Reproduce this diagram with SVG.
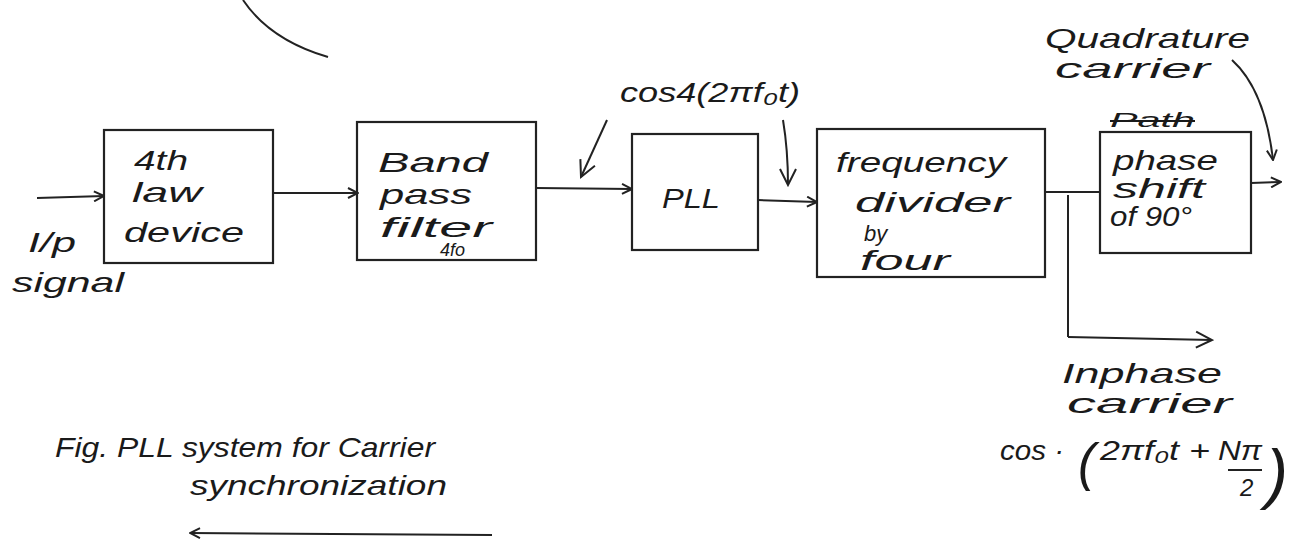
<svg xmlns="http://www.w3.org/2000/svg" width="1291" height="546" viewBox="0 0 1291 546">
  <style>
    .box { fill: none; stroke: #222; stroke-width: 2.2; }
    .wire { fill: none; stroke: #222; stroke-width: 2; }
    .lbl { font-family: "Liberation Sans", "DejaVu Sans", sans-serif; font-size: 28px; font-style: italic; fill: #1a1a1a; }
    .sm { font-size: 18px; }
    .strike { text-decoration: line-through; }
  </style>
  <defs>
    <marker id="arr" viewBox="0 0 12 12" refX="11" refY="6" markerWidth="12" markerHeight="12" markerUnits="userSpaceOnUse" orient="auto">
      <path d="M1 1 L11 6 L1 11" fill="none" stroke="#222" stroke-width="2"/>
    </marker>
    <marker id="arrBig" viewBox="0 0 20 20" refX="18" refY="10" markerWidth="20" markerHeight="20" markerUnits="userSpaceOnUse" orient="auto">
      <path d="M2 2 L18 10 L2 18" fill="none" stroke="#222" stroke-width="2"/>
    </marker>
  </defs>
  <rect width="1291" height="546" fill="#fff"/>

  <!-- stray arc at the top -->
  <path class="wire" d="M243 0 Q270 40 328 57" stroke-width="1.3"/>

  <g id="law-device">
    <rect class="box" x="104" y="130" width="169" height="133"/>
    <text class="lbl" x="134" y="170" textLength="54" lengthAdjust="spacingAndGlyphs">4th</text>
    <text class="lbl" x="132" y="202" textLength="70" lengthAdjust="spacingAndGlyphs">law</text>
    <text class="lbl" x="124" y="242" textLength="120" lengthAdjust="spacingAndGlyphs">device</text>
  </g>

  <g id="band-pass">
    <rect class="box" x="357" y="122" width="179" height="138"/>
    <text class="lbl" x="378" y="172" textLength="110" lengthAdjust="spacingAndGlyphs">Band</text>
    <text class="lbl" x="380" y="204" textLength="92" lengthAdjust="spacingAndGlyphs">pass</text>
    <text class="lbl" x="380" y="237" textLength="112" lengthAdjust="spacingAndGlyphs">filter</text>
    <text class="lbl sm" x="440" y="256">4fo</text>
  </g>

  <g id="pll">
    <rect class="box" x="632" y="134" width="126" height="116"/>
    <text class="lbl" x="662" y="208" textLength="58" lengthAdjust="spacingAndGlyphs">PLL</text>
  </g>

  <g id="freq-divider">
    <rect class="box" x="817" y="129" width="228" height="148"/>
    <text class="lbl" x="836" y="172" textLength="170" lengthAdjust="spacingAndGlyphs">frequency</text>
    <text class="lbl" x="855" y="212" textLength="155" lengthAdjust="spacingAndGlyphs">divider</text>
    <text class="lbl" x="864" y="241" style="font-size:22px">by</text>
    <text class="lbl" x="860" y="270" textLength="90" lengthAdjust="spacingAndGlyphs">four</text>
  </g>

  <g id="phase-shift">
    <rect class="box" x="1100" y="132" width="151" height="121"/>
    <text class="lbl strike" x="1110" y="127" style="font-size:20px" textLength="85" lengthAdjust="spacingAndGlyphs">Path</text>
    <text class="lbl" x="1113" y="170" textLength="105" lengthAdjust="spacingAndGlyphs">phase</text>
    <text class="lbl" x="1113" y="198" textLength="92" lengthAdjust="spacingAndGlyphs">shift</text>
    <text class="lbl" x="1110" y="226" textLength="82" lengthAdjust="spacingAndGlyphs">of 90°</text>
  </g>

  <g id="connectors">
    <!-- input -->
    <line class="wire" x1="37" y1="198" x2="104" y2="196" marker-end="url(#arr)"/>
    <line class="wire" x1="273" y1="193" x2="358" y2="193" marker-end="url(#arr)"/>
    <line class="wire" x1="536" y1="188" x2="632" y2="189" marker-end="url(#arr)"/>
    <line class="wire" x1="758" y1="200" x2="817" y2="202" marker-end="url(#arr)"/>
    <!-- pointers to the cos4 signal -->
    <line class="wire" x1="607" y1="120" x2="581" y2="177" marker-end="url(#arrBig)"/>
    <path class="wire" d="M783 120 Q788 150 788 185" marker-end="url(#arrBig)"/>
    <!-- divider output split -->
    <line class="wire" x1="1045" y1="192" x2="1100" y2="192"/>
    <line class="wire" x1="1068" y1="195" x2="1068" y2="337"/>
    <line class="wire" x1="1068" y1="337" x2="1212" y2="340" marker-end="url(#arrBig)"/>
    <!-- phase shifter output -->
    <line class="wire" x1="1251" y1="183" x2="1281" y2="182" marker-end="url(#arr)"/>
    <!-- quadrature carrier pointer -->
    <path class="wire" d="M1232 60 Q1265 90 1273 160" marker-end="url(#arr)"/>
    <!-- caption underline -->
    <line class="wire" x1="492" y1="535" x2="190" y2="533" marker-end="url(#arr)" stroke-width="1.6"/>
  </g>

  <g id="labels">
    <text class="lbl" x="28" y="252" textLength="48" lengthAdjust="spacingAndGlyphs">I/p</text>
    <text class="lbl" x="12" y="292" textLength="112" lengthAdjust="spacingAndGlyphs">signal</text>
    <text class="lbl" x="620" y="102" textLength="180" lengthAdjust="spacingAndGlyphs">cos4(2πf₀t)</text>
    <text class="lbl" x="1045" y="48" textLength="205" lengthAdjust="spacingAndGlyphs">Quadrature</text>
    <text class="lbl" x="1055" y="78" textLength="155" lengthAdjust="spacingAndGlyphs">carrier</text>
    <text class="lbl" x="1062" y="383" textLength="160" lengthAdjust="spacingAndGlyphs">Inphase</text>
    <text class="lbl" x="1067" y="413" textLength="165" lengthAdjust="spacingAndGlyphs">carrier</text>
    <text class="lbl" x="1000" y="460" textLength="64" lengthAdjust="spacingAndGlyphs">cos ·</text>
    <text class="lbl" x="1078" y="480" style="font-size:52px">(</text>
    <text class="lbl" x="1100" y="460" textLength="110" lengthAdjust="spacingAndGlyphs">2πf₀t +</text>
    <text class="lbl" x="1218" y="460" textLength="44" lengthAdjust="spacingAndGlyphs">Nπ</text>
    <line class="wire" x1="1228" y1="470" x2="1262" y2="470" stroke-width="1.5"/>
    <text class="lbl" x="1240" y="496" style="font-size:24px">2</text>
    <text class="lbl" x="1266" y="496" style="font-size:66px">)</text>
    <text class="lbl" x="55" y="457" textLength="380" lengthAdjust="spacingAndGlyphs">Fig. PLL system for  Carrier</text>
    <text class="lbl" x="190" y="495" textLength="257" lengthAdjust="spacingAndGlyphs">synchronization</text>
  </g>
</svg>
